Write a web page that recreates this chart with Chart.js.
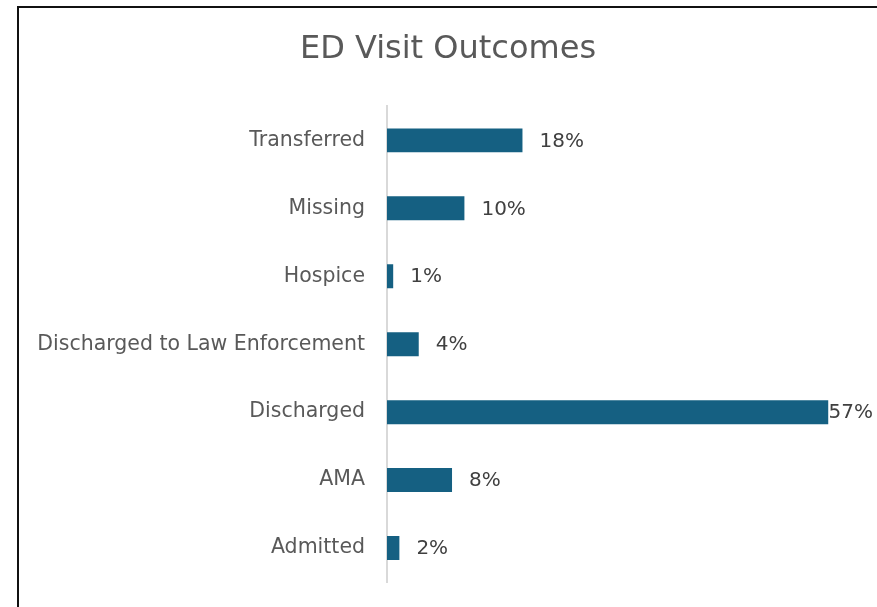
<!DOCTYPE html>
<html>
<head>
<meta charset="utf-8">
<script src="https://cdn.jsdelivr.net/npm/chart.js@4.4.1/dist/chart.umd.min.js"></script>
<style>
  html, body { margin: 0; padding: 0; background: #fff; overflow: hidden; }
  #frame {
    position: absolute; left: 17px; top: 6px; width: 860px; height: 601px;
    border-top: 2px solid #111; border-left: 2px solid #111;
  }
  #myChart { position: absolute; left: 0; top: 0; display: block; }
</style>
</head>
<body>
<div id="frame"><canvas id="myChart" width="858" height="599"></canvas></div>
<script>
// data block
const categories = [
  "Transferred",
  "Missing",
  "Hospice",
  "Discharged to Law Enforcement",
  "Discharged",
  "AMA",
  "Admitted",
];
const shares = [17.5, 10.0, 0.8, 4.1, 57.0, 8.4, 1.6];
const shareLabels = ["18%", "10%", "1%", "4%", "57%", "8%", "2%"];

const fontFamily = "'DejaVu Sans', sans-serif";

// plugin - value labels at bar ends
const barLabels = {
  id: "barLabels",
  afterDatasetsDraw(chart) {
    const ctx = chart.ctx;
    const meta = chart.getDatasetMeta(0);
    ctx.save();
    ctx.font = "20px " + fontFamily;
    ctx.fillStyle = "#404040";
    ctx.textBaseline = "middle";
    ctx.textAlign = "left";
    meta.data.forEach((bar, i) => {
      const text = shareLabels[i];
      const w = ctx.measureText(text).width;
      let x = bar.x + 17;
      // label doesn't fit past the bar -> pull it back in
      const limit = chart.width - w - 4;
      if (x > limit) x = Math.max(bar.x - 1, limit);
      ctx.fillText(text, x, bar.y + 1);
    });
    ctx.restore();
  },
};

// config block
const config = {
  type: "bar",
  data: {
    labels: categories,
    datasets: [
      {
        label: "ED Visit Outcomes",
        data: shares,
        backgroundColor: "#156082",
        borderWidth: 0,
        categoryPercentage: 1,
        barPercentage: 0.353,
      },
    ],
  },
  options: {
    responsive: false,
    indexAxis: "y",
    animation: false,
    layout: { padding: { top: 0, right: 0, bottom: 25, left: 0 } },
    plugins: {
      legend: { display: false },
      tooltip: { enabled: false },
      title: {
        display: true,
        text: "ED Visit Outcomes",
        color: "#595959",
        font: { family: fontFamily, size: 32, weight: "normal", lineHeight: 1.2 },
        padding: { top: 22, bottom: 38 },
      },
    },
    scales: {
      x: {
        display: false,
        min: 0,
        max: 63.3,
      },
      y: {
        afterFit(scale) {
          scale.width = 368;
          scale.paddingTop = 0;
          scale.paddingBottom = 0;
        },
        grid: { display: false, drawTicks: false },
        border: { display: true, color: "#d9d9d9", width: 2 },
        ticks: {
          color: "#595959",
          padding: 22,
          font: { family: fontFamily, size: 20.5 },
        },
      },
    },
  },
  plugins: [barLabels],
};

// render init block
const myChart = new Chart(document.getElementById("myChart"), config);
</script>
</body>
</html>
